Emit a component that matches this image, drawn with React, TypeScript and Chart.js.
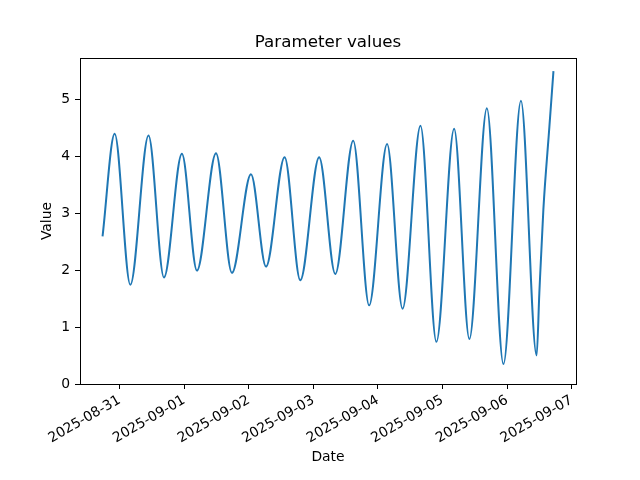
import React, { useEffect, useRef } from 'react';
import { Chart, registerables } from 'chart.js';

Chart.register(...registerables);

const titleText = 'Parameter values';
const xLabel = 'Date';
const yLabel = 'Value';

const times = [
  '2025-08-30T17:40', '2025-08-30T22:10', '2025-08-31T04:00', '2025-08-31T10:45',
  '2025-08-31T16:30', '2025-08-31T23:10', '2025-09-01T04:45', '2025-09-01T11:50',
  '2025-09-01T17:45', '2025-09-02T00:50', '2025-09-02T06:25', '2025-09-02T13:20',
  '2025-09-02T19:10', '2025-09-03T02:10', '2025-09-03T08:10', '2025-09-03T14:50',
  '2025-09-03T20:45', '2025-09-04T03:25', '2025-09-04T09:10', '2025-09-04T15:50',
  '2025-09-04T21:45', '2025-09-05T04:20', '2025-09-05T10:00', '2025-09-05T16:30',
  '2025-09-05T22:40', '2025-09-06T05:10', '2025-09-06T11:00', '2025-09-06T12:00',
  '2025-09-06T13:30', '2025-09-06T15:45', '2025-09-06T17:15',
];

const values = [
  2.59, 4.39, 1.74, 4.36,
  1.87, 4.04, 1.99, 4.05,
  1.95, 3.68, 2.06, 3.98,
  1.82, 3.98, 1.93, 4.27,
  1.38, 4.21, 1.32, 4.53,
  0.74, 4.48, 0.79, 4.84,
  0.35, 4.97, 0.50, 1.59,
  3.06, 4.52, 5.49,
];

const yTicks = [0, 1, 2, 3, 4, 5];
const yMin = 0;
const yMax = 5.72;

const DAY = 86400000;
const toDay = (s: string) => Date.parse(s + ':00Z') / DAY;
const fmtDay = (d: number) => new Date(Math.round(d) * DAY).toISOString().slice(0, 10);

const FONT = '"DejaVu Sans", sans-serif';

export default function App() {
  const ref = useRef<HTMLCanvasElement | null>(null);

  useEffect(() => {
    if (!ref.current) return;
    const xs = times.map(toDay);
    const dmin = Math.min(...xs);
    const dmax = Math.max(...xs);
    const margin = (dmax - dmin) * 0.05;
    const xMin = dmin - margin;
    const xMax = dmax + margin;

    const frame = {
      id: 'frame',
      afterDraw(chart: any) {
        const { ctx, chartArea } = chart;
        const { left, right, top, bottom } = chartArea;
        ctx.save();
        ctx.strokeStyle = '#000';
        ctx.lineWidth = 1;
        ctx.strokeRect(Math.round(left) + 0.5, Math.round(top) + 0.5, Math.round(right - left), Math.round(bottom - top));
        ctx.fillStyle = '#000';
        ctx.font = `16.7px ${FONT}`;
        ctx.textAlign = 'center';
        ctx.textBaseline = 'middle';
        ctx.fillText(titleText, (left + right) / 2, 43);
        ctx.restore();
      },
    };

    const tickFont = { family: FONT, size: 13.9 };

    const chart = new Chart(ref.current, {
      type: 'line',
      data: {
        datasets: [
          {
            data: xs.map((x, i) => ({ x, y: values[i] })),
            borderColor: '#1f77b4',
            borderWidth: 2,
            pointRadius: 0,
            fill: false,
            cubicInterpolationMode: 'monotone',
          },
        ],
      },
      options: {
        animation: false,
        responsive: true,
        maintainAspectRatio: false,
        layout: { padding: { left: 0, right: 64, top: 58, bottom: 0 } },
        plugins: {
          legend: { display: false },
          tooltip: { enabled: false },
          title: { display: false },
        },
        scales: {
          x: {
            type: 'linear',
            min: xMin,
            max: xMax,
            afterBuildTicks: (s: any) => {
              const t = [];
              for (let v = Math.ceil(xMin); v <= Math.floor(xMax); v++) t.push({ value: v });
              s.ticks = t;
            },
            afterFit: (s: any) => {
              s.height = 96;
            },
            grid: { display: true, drawOnChartArea: false, drawTicks: true, tickLength: 5, color: '#000', lineWidth: 1 },
            border: { display: false },
            ticks: {
              font: tickFont,
              color: '#000',
              minRotation: 30,
              maxRotation: 30,
              autoSkip: false,
              padding: 3,
              callback: (v: any) => fmtDay(Number(v)),
            },
            title: {
              display: true,
              text: xLabel,
              font: tickFont,
              color: '#000',
              padding: { top: 0, bottom: 14.7 },
            },
          },
          y: {
            type: 'linear',
            min: yMin,
            max: yMax,
            afterBuildTicks: (s: any) => {
              s.ticks = yTicks.map((v) => ({ value: v }));
            },
            afterFit: (s: any) => {
              s.width = 80;
            },
            grid: { display: true, drawOnChartArea: false, drawTicks: true, tickLength: 5, color: '#000', lineWidth: 1 },
            border: { display: false },
            ticks: {
              font: tickFont,
              color: '#000',
              padding: 5,
              callback: (v: any) => String(v),
            },
            title: {
              display: true,
              text: yLabel,
              font: tickFont,
              color: '#000',
              padding: { top: 39, bottom: 0 },
            },
          },
        },
      },
      plugins: [frame],
    } as any);

    return () => chart.destroy();
  }, []);

  return (
    <div style={{ position: 'fixed', left: 0, top: 0, width: 640, height: 480, background: '#fff' }}>
      <canvas ref={ref} />
    </div>
  );
}
